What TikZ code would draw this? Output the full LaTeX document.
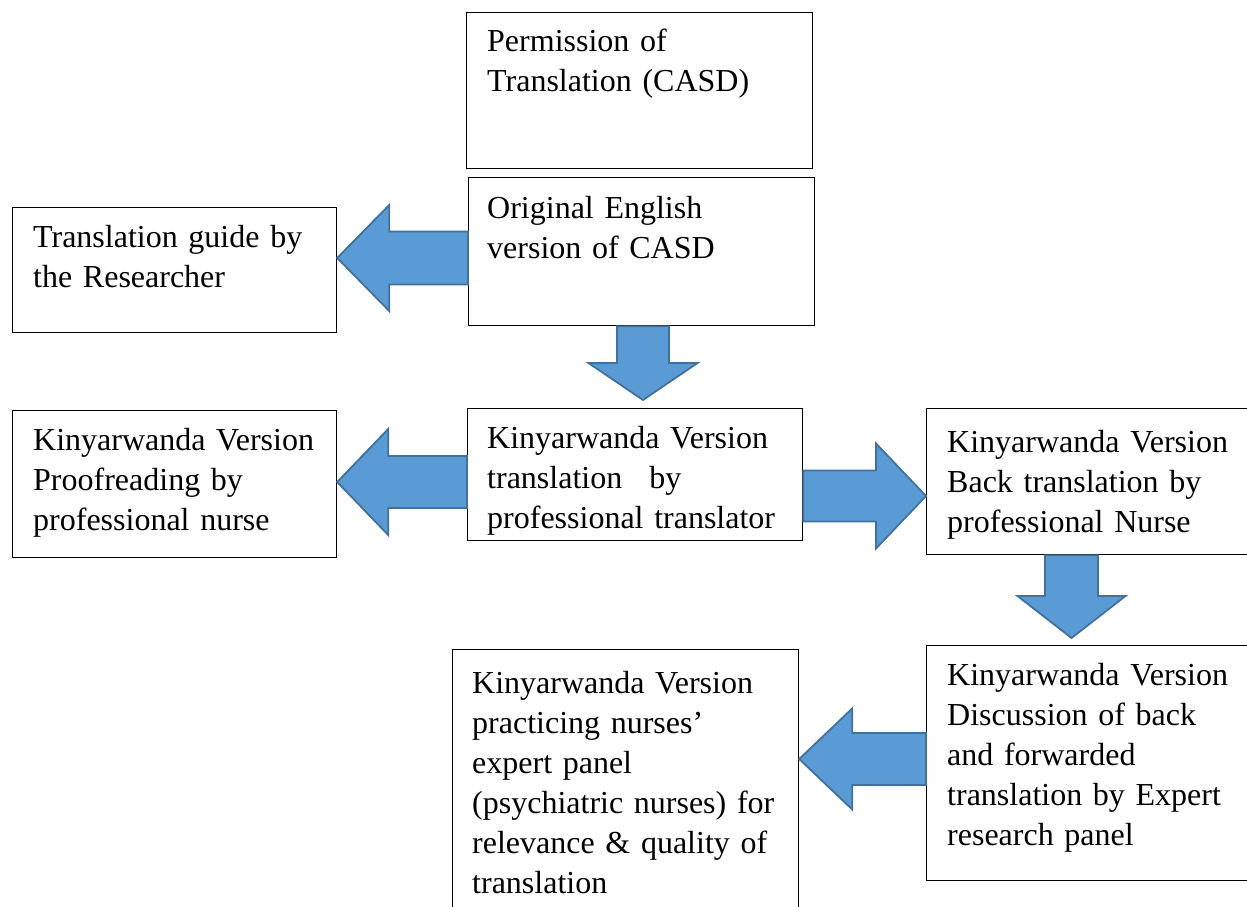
\documentclass[tikz,border=0pt]{standalone}
\usepackage{fontspec}
\setmainfont{Liberation Serif}
\usetikzlibrary{calc}
\definecolor{arrowfill}{HTML}{5B9BD5}
\definecolor{arrowline}{HTML}{41719C}
\tikzset{
  box/.style={draw=black, line width=1.2pt, anchor=north west, inner sep=0pt, fill=white},
  txt/.style={anchor=base west, inner sep=0pt, text width=330pt, align=left,
    font=\fontsize{32}{40}\selectfont},
  blockarrow/.style={fill=arrowfill, draw=arrowline, line width=1.8pt, line join=miter},
}
% horizontal block arrow: #1 start point, #2 tip point, #3 shaft half, #4 head half, #5 head length (signed: + if tip is left)
\newcommand\harrow[5]{%
  \path[blockarrow] let \p1=#1, \p2=#2 in
    (\x1,\y2+#3) -- (\x2+#5,\y2+#3) -- (\x2+#5,\y2+#4) -- (\x2,\y2) --
    (\x2+#5,\y2-#4) -- (\x2+#5,\y2-#3) -- (\x1,\y2-#3) -- cycle;}
% vertical block arrow pointing down
\newcommand\varrow[5]{%
  \path[blockarrow] let \p1=#1, \p2=#2 in
    (\x2-#3,\y1) -- (\x2-#3,\y2+#5) -- (\x2-#4,\y2+#5) -- (\x2,\y2) --
    (\x2+#4,\y2+#5) -- (\x2+#3,\y2+#5) -- (\x2+#3,\y1) -- cycle;}
\begin{document}
\begin{tikzpicture}[x=1pt, y=-1pt]
\useasboundingbox (0,0) rectangle (1247,907);
\clip (0,0) rectangle (1247,907);
\fill[white] (0,0) rectangle (1247,907);

% boxes
\node[box, minimum width=346pt, minimum height=156pt] (perm) at (466,12) {};
\node[box, minimum width=346pt, minimum height=148pt] (orig) at (468,177) {};
\node[box, minimum width=324pt, minimum height=125pt] (guide) at (12,207) {};
\node[box, minimum width=335pt, minimum height=132pt] (trans) at (467,408) {};
\node[box, minimum width=324pt, minimum height=147pt] (proof) at (12,410) {};
\node[box, minimum width=334pt, minimum height=146pt] (back) at (926,408) {};
\node[box, minimum width=334pt, minimum height=235pt] (disc) at (926,645) {};
\node[box, minimum width=346pt, minimum height=290pt] (panel) at (452,649) {};

% texts
\node[txt] (permT) at ($(perm.north west)+(21,40)$) {Permission of\\Translation (CASD)};
\node[txt] (origT) at ($(orig.north west)+(19,41)$) {Original English\\version of CASD};
\node[txt] (guideT) at ($(guide.north west)+(21,40)$) {Translation guide by\\the Researcher};
\node[txt] (transT) at ($(trans.north west)+(20,40)$) {Kinyarwanda Version\\translation\hspace*{27pt}by\\professional translator};
\node[txt] (proofT) at ($(proof.north west)+(21,40)$) {Kinyarwanda Version\\Proofreading by\\professional nurse};
\node[txt] (backT) at ($(back.north west)+(21,44)$) {Kinyarwanda Version\\Back translation by\\professional Nurse};
\node[txt] (discT) at ($(disc.north west)+(21,40)$) {Kinyarwanda Version\\Discussion of back\\and forwarded\\translation by Expert\\research panel};
\node[txt] (panelT) at ($(panel.north west)+(20,44)$) {Kinyarwanda Version\\practicing nurses’\\expert panel\\(psychiatric nurses) for\\relevance \& quality of\\translation};

% block arrows
\coordinate (a1s) at (orig.west |- 0,258);
\coordinate (a1t) at (guide.east |- 0,258);
\harrow{(a1s)}{(a1t)}{26.5pt}{53pt}{52pt}

\coordinate (a2s) at (orig.south -| 643,0);
\coordinate (a2t) at ($(trans.north -| 643,0)+(0,-8)$);
\varrow{(a2s)}{(a2t)}{26pt}{54.5pt}{37pt}

\coordinate (a3s) at (trans.west |- 0,482);
\coordinate (a3t) at (proof.east |- 0,482);
\harrow{(a3s)}{(a3t)}{26pt}{53pt}{51pt}

\coordinate (a4s) at (trans.east |- 0,496);
\coordinate (a4t) at (back.west |- 0,496);
\harrow{(a4s)}{(a4t)}{25.5pt}{52.5pt}{-50pt}

\coordinate (a5s) at (back.south -| 1071.5,0);
\coordinate (a5t) at ($(disc.north -| 1071.5,0)+(0,-7)$);
\varrow{(a5s)}{(a5t)}{26.5pt}{54pt}{42pt}

\coordinate (a6s) at (disc.west |- 0,759);
\coordinate (a6t) at (panel.east |- 0,759);
\harrow{(a6s)}{(a6t)}{26pt}{50.5pt}{53pt}
\end{tikzpicture}
\end{document}
